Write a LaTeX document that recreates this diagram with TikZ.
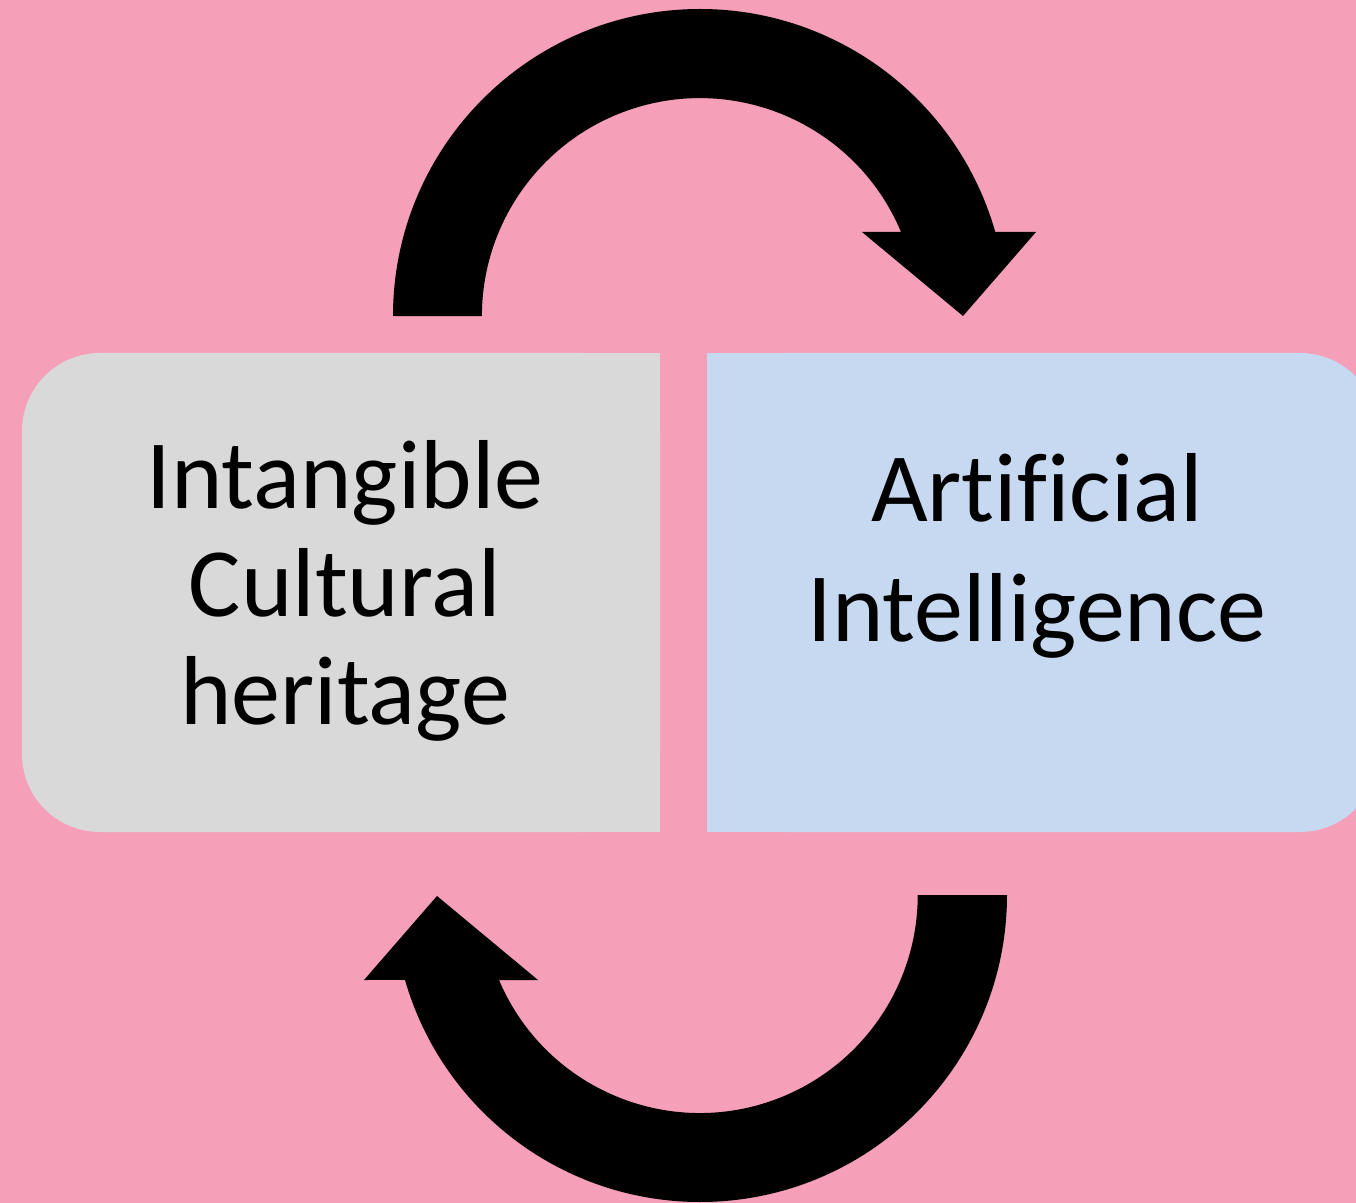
\documentclass[tikz,border=0pt]{standalone}
\usepackage{fontspec}
\setmainfont{Carlito}[Ligatures={NoCommon,NoRequired,NoContextual}]
\usetikzlibrary{positioning}
\definecolor{bgpink}{RGB}{245,159,185}
\definecolor{ichgrey}{RGB}{217,217,217}
\definecolor{aiblue}{RGB}{198,217,241}
\tikzset{
    box text/.style={align=center, inner sep=0pt},
    cycle arrow/.style={fill=black},
}

\begin{document}
\begin{tikzpicture}[x=0.5pt, y=-0.5pt]
    \fill[bgpink] (0,0) rectangle (1356,1203);
    \useasboundingbox (0,0) rectangle (1356,1203);

    % boxes
    \fill[ichgrey, rounded corners=39pt] (22,353) rectangle (660,832);
    \fill[ichgrey] (400,353) rectangle (660,832);
    \fill[aiblue, rounded corners=39pt] (707,353) rectangle (1378,832);
    \fill[aiblue] (707,353) rectangle (1000,832);

    \node[box text, font=\fontsize{49}{54}\selectfont] (ich) at (345,591)
        {Intangible\\Cultural\\heritage};
    \node[box text, font=\fontsize{49}{60}\selectfont] (ai) at (1037,556)
        {Artif\kern0pt icial\\Intelligence};

    % arrows
    \coordinate (topc) at (700,316);
    \coordinate (botc) at (700,895);
    \fill[cycle arrow] (393,316) arc[start angle=180, end angle=344.1, radius=307]
        -- (1036,232) -- (963,316) -- (862,232) -- (901,232)
        arc[start angle=337.3, end angle=180, radius=218] -- cycle;
    \fill[cycle arrow] (1007,895) arc[start angle=0, end angle=163.93, radius=307]
        -- (364,980) -- (437,896) -- (538,980) -- (499,980)
        arc[start angle=157.05, end angle=0, radius=218] -- cycle;
\end{tikzpicture}
\end{document}
